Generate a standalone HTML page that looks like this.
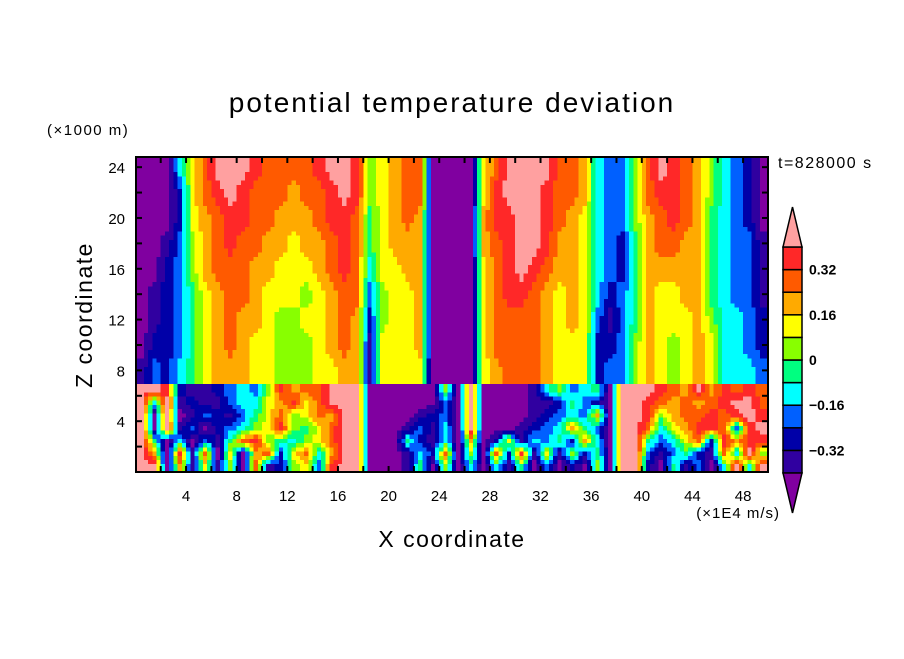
<!DOCTYPE html>
<html><head><meta charset="utf-8">
<style>
body{margin:0;background:#fff;}
svg text{font-family:"Liberation Sans",sans-serif;fill:#000;}
</style></head>
<body>
<svg id="chart" width="904" height="654" viewBox="0 0 904 654" xmlns="http://www.w3.org/2000/svg">
<rect width="904" height="654" fill="#fff"/>
<text x="452" y="112" font-size="28" text-anchor="middle" letter-spacing="2">potential temperature deviation</text>
<text x="47" y="135" font-size="15" letter-spacing="1.5">(×1000 m)</text>
<text x="778" y="168" font-size="16" letter-spacing="1.5">t=828000 s</text>
<text transform="translate(92,315) rotate(-90)" font-size="23" text-anchor="middle" letter-spacing="1.5">Z coordinate</text>
<text x="452" y="547" font-size="23" text-anchor="middle" letter-spacing="1.5">X coordinate</text>
<text x="780" y="518" font-size="15" text-anchor="end" letter-spacing="1">(×1E4 m/s)</text>
<defs><clipPath id="plotclip"><rect x="136" y="157" width="632" height="315"/></clipPath></defs>
<g id="cells" clip-path="url(#plotclip)" shape-rendering="crispEdges"></g>
<g id="axes"></g>
<g id="cbar"></g>
</svg>
<script>
// data: potential temperature deviation, in hundredths of K
const xEdges = [0,1,2,3,4,5,6,7,8,9,10,11,12,13,14,15,16,17,18,19,20,21,22,23,24,25,26,27,28,29,30,31,32,33,34,35,36,37,38,39,40,41,42,43,44,45,46,47,48,49,50];
const zEdges = [0,1,2,3,4,5,6,7,9,11,13,15,17,19,21,23,25];
const row0 = [44,44,-44,20,-36,12,-36,4,-44,28,-36,-28,4,12,-20,36,44,44,-44,-44,-44,-36,-4,-44,4,-44,-12,-44,-12,-36,-4,-44,-20,-44,-28,-44,4,-44,44,44,-28,-44,-4,-36,-20,-44,-12,44,-12,44];
const row1 = [44,20,-44,36,-36,28,-44,12,-44,20,28,-28,12,28,-12,20,44,44,-44,-44,-44,-36,-12,-28,28,-44,4,-44,28,-28,36,-36,12,-36,4,-28,-4,-44,44,44,-20,-36,-20,-4,-28,-36,28,-12,44,4];
const row2 = [44,-4,-44,-12,-44,-20,-36,-4,28,36,4,-4,-12,4,12,28,44,44,-44,-44,-44,-4,-28,-36,-12,-44,20,-44,-28,12,-36,-12,-20,-4,-28,20,-12,-44,44,44,-4,-20,-12,12,28,-28,36,20,36,36];
const row3 = [44,-44,44,-36,-20,-44,-28,-20,-12,4,12,36,4,-4,12,28,44,44,-44,-44,-44,-36,-20,-36,-12,-44,44,-44,-44,-44,-36,-28,-20,-12,20,-4,-20,-44,44,44,28,-12,12,20,36,36,28,-20,36,44];
const row4 = [44,-44,44,-44,-36,-20,-28,-36,-20,-4,12,28,4,12,28,20,44,44,-44,-44,-44,-44,-36,-28,-20,-44,44,-44,-44,-44,-44,-36,-28,-20,-12,-20,20,-44,44,44,36,4,20,28,28,36,28,36,44,36];
const row5 = [44,-12,44,-36,-28,-36,-36,-20,-12,-12,12,20,36,12,28,44,44,44,-44,-44,-44,-44,-44,-44,-20,-44,44,-44,-44,-44,-44,-36,-36,-28,-4,-20,-28,-44,44,44,36,28,20,28,20,28,36,44,44,28];
const row6 = [44,44,36,-28,-36,-36,-28,-20,-12,-20,4,36,20,28,28,44,44,44,-44,-44,-44,-44,-44,-44,4,-44,44,-44,-44,-44,-44,-36,-12,4,-20,-12,-4,-44,44,44,44,36,28,20,44,20,36,28,36,28];
const row7 = [-36,-20,-28,-12,-4,12,20,20,20,12,12,4,4,4,12,12,20,20,-36,12,12,12,12,-44,-44,-44,-44,12,20,28,28,28,20,12,12,12,-28,-20,-20,4,20,12,4,12,20,12,-12,-12,-12,-20];
const row8 = [-44,-28,-28,-20,-4,12,20,28,20,12,12,4,4,4,12,20,28,20,-36,12,12,12,20,-44,-44,-44,-44,12,28,28,28,28,20,12,12,12,-28,-28,-20,4,20,12,4,12,20,12,-12,-12,-20,-28];
const row9 = [-44,-36,-28,-20,-4,12,20,28,20,20,12,4,4,12,12,20,28,20,-28,4,12,12,20,-44,-44,-44,-44,12,28,28,28,28,20,12,20,12,-20,-36,-20,-4,20,12,12,12,20,4,-12,-12,-20,-28];
const row10 = [-44,-36,-28,-20,-4,12,20,28,28,20,12,12,12,4,12,20,28,28,-20,4,12,12,20,-44,-44,-44,-44,12,28,36,36,28,20,12,20,12,-12,-28,-20,-4,20,12,12,20,20,-4,-12,-20,-20,-36];
const row11 = [-44,-44,-28,-20,4,20,28,28,28,20,20,12,12,12,20,28,36,28,-12,12,12,20,20,-44,-44,-44,-44,12,28,36,44,36,28,20,20,12,-12,-20,-28,-4,20,20,20,20,20,-4,-12,-20,-20,-36];
const row12 = [-44,-44,-36,-20,4,20,28,36,28,28,20,20,12,20,20,28,36,28,-4,12,20,20,20,-44,-44,-44,-44,20,28,36,44,44,36,20,20,12,-12,-20,-28,-4,20,28,28,20,20,-4,-12,-20,-20,-36];
const row13 = [-44,-44,-44,-28,12,20,28,36,36,28,28,20,20,20,28,36,36,28,-4,12,20,28,20,-44,-44,-44,-44,20,36,36,44,44,36,28,20,12,-12,-20,-20,4,20,28,36,28,20,-4,-12,-20,-28,-44];
const row14 = [-44,-44,-44,-28,12,28,36,44,36,28,28,28,20,28,28,36,44,36,4,12,20,28,28,-44,-44,-44,-44,12,36,44,44,44,36,28,28,20,-12,-20,-20,4,28,36,36,28,20,4,-12,-20,-28,-44];
const row15 = [-44,-44,-44,-12,12,28,44,44,44,36,28,28,28,28,36,44,44,36,4,12,20,28,28,-44,-44,-44,-44,12,28,44,44,44,44,28,28,20,-12,-20,-20,4,28,44,36,28,20,4,-12,-20,-28,-44];
const rows = [row0,row1,row2,row3,row4,row5,row6,row7,row8,row9,row10,row11,row12,row13,row14,row15];
const levels = [-0.40,-0.32,-0.24,-0.16,-0.08,0,0.08,0.16,0.24,0.32,0.40];
const colors = ["#8000a0","#3000a0","#0000a8","#0060ff","#00ffff","#00ff80","#88ff00","#ffff00","#ffaa00","#ff5a00","#ff2828","#ffa0a0"];
const cbarLabels = ["0.32","0.16","0","-0.16","-0.32"];
const cbarLabelValues = [0.32,0.16,0,-0.16,-0.32];
const xTicks = [4,8,12,16,20,24,28,32,36,40,44,48];
const yTicks = [4,8,12,16,20,24];

const NS="http://www.w3.org/2000/svg";
const X0=135.4, X1=768.4, Y0=472, ZMAX=24.8, YT=157;
function xs(u){return X0+(u/50)*(X1-X0);}
function ys(z){return Y0-(z/ZMAX)*(Y0-YT);}
function colorOf(v){let i=0;while(i<levels.length&&v>=levels[i])i++;return colors[i];}
function mk(tag,attrs,parent){const e=document.createElementNS(NS,tag);for(const k in attrs)e.setAttribute(k,attrs[k]);parent.appendChild(e);return e;}

// smooth the field within each regime (lower turbulent layer rows 0-6, upper rows 7-15)
const SPLIT=7;
function centerX(c){return (xEdges[c]+xEdges[c+1])/2;}
function centerZ(r){return (zEdges[r]+zEdges[r+1])/2;}
function sampleField(u,z,upper){
  const r0=upper?SPLIT:0, r1=upper?rows.length-1:SPLIT-1;
  let rA=r0; while(rA<r1 && centerZ(rA+1)<=z) rA++;
  let rB=Math.min(rA+1,r1);
  let tz = (rB===rA)?0:Math.max(0,Math.min(1,(z-centerZ(rA))/(centerZ(rB)-centerZ(rA))));
  if(z<centerZ(r0)){rA=rB=r0;tz=0;}
  const nc=xEdges.length-1;
  let cA=0; while(cA<nc-1 && centerX(cA+1)<=u) cA++;
  let cB=Math.min(cA+1,nc-1);
  let tx=(cB===cA)?0:Math.max(0,Math.min(1,(u-centerX(cA))/(centerX(cB)-centerX(cA))));
  if(u<centerX(0)){cA=cB=0;tx=0;}
  const a=rows[rA][cA]*(1-tx)+rows[rA][cB]*tx;
  const b=rows[rB][cA]*(1-tx)+rows[rB][cB]*tx;
  return (a*(1-tz)+b*tz)/100;
}
const cellsG=document.getElementById('cells');
const SUBX=3;
for(let r=0;r<rows.length;r++){
  const upper=r>=SPLIT;
  const subZ=upper?6:3;
  for(let c=0;c<rows[r].length;c++){
    for(let i=0;i<SUBX;i++){
      for(let j=0;j<subZ;j++){
        const ua=xEdges[c]+(xEdges[c+1]-xEdges[c])*i/SUBX;
        const ub=xEdges[c]+(xEdges[c+1]-xEdges[c])*(i+1)/SUBX;
        const za=zEdges[r]+(zEdges[r+1]-zEdges[r])*j/subZ;
        const zb=zEdges[r]+(zEdges[r+1]-zEdges[r])*(j+1)/subZ;
        const v=sampleField((ua+ub)/2,(za+zb)/2,upper);
        const xa=xs(ua), xb=xs(ub), ya=ys(zb), yb=ys(za);
        const el=mk('rect',{x:xa.toFixed(2),y:ya.toFixed(2),width:(xb-xa+0.7).toFixed(2),height:(yb-ya+0.7).toFixed(2),fill:colorOf(v)},cellsG);
        
        
      }
    }
  }
}

const axesG=document.getElementById('axes');
const frame=mk('rect',{x:136,y:157,width:632,height:315,fill:'none',stroke:'#000','stroke-width':2},axesG);


for(let u=2;u<50;u+=2){
  const x=xs(u);
  const t1=mk('line',{x1:x,y1:472,x2:x,y2:466,stroke:'#000','stroke-width':2},axesG);
  
  
  const t2=mk('line',{x1:x,y1:157,x2:x,y2:163,stroke:'#000','stroke-width':2},axesG);
  
  
}
for(let z=2;z<25;z+=2){
  const y=ys(z);
  const t1=mk('line',{x1:136,y1:y,x2:142,y2:y,stroke:'#000','stroke-width':2},axesG);
  
  
  const t2=mk('line',{x1:768,y1:y,x2:762,y2:y,stroke:'#000','stroke-width':2},axesG);
  
  
}
xTicks.forEach(u=>{
  const t=mk('text',{x:xs(u),y:501,'font-size':15,'text-anchor':'middle'},axesG);
  t.textContent=String(u);
  
  
});
yTicks.forEach(z=>{
  const t=mk('text',{x:125,y:ys(z)+6,'font-size':15,'text-anchor':'end'},axesG);
  t.textContent=String(z);
  
  
});

// colorbar
const cbG=document.getElementById('cbar');
const CX0=783, CX1=802, CT=247, CB=473, nb=levels.length-1;
const bh=(CB-CT)/nb;
function cy(v){return CB-((v-levels[0])/(levels[nb]-levels[0]))*(CB-CT);}
for(let i=0;i<nb;i++){
  const el=mk('rect',{x:CX0,y:cy(levels[i+1]),width:CX1-CX0,height:bh,fill:colors[i+1],stroke:'#000','stroke-width':1.5},cbG);
  
  
}
const triTop=mk('polygon',{points:`${CX0},${CT} ${CX1},${CT} ${(CX0+CX1)/2},207`,fill:colors[11],stroke:'#000','stroke-width':1.5},cbG);


const triBot=mk('polygon',{points:`${CX0},${CB} ${CX1},${CB} ${(CX0+CX1)/2},513`,fill:colors[0],stroke:'#000','stroke-width':1.5},cbG);


cbarLabels.forEach((s,i)=>{
  const t=mk('text',{x:809,y:cy(cbarLabelValues[i])+5,'font-size':14,'font-weight':'bold'},cbG);
  t.textContent=s.replace('-','\u2212');
  
  
});
</script>
</body></html>
